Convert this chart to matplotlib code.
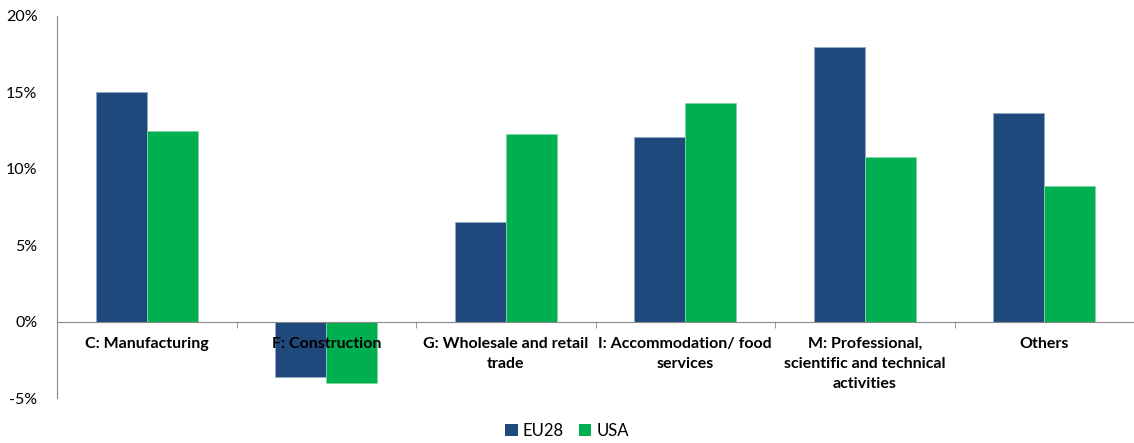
import matplotlib
matplotlib.use("Agg")
import matplotlib.pyplot as plt
import numpy as np
from matplotlib.ticker import FuncFormatter, FixedLocator
from matplotlib.patches import Patch

categories = ["C: Manufacturing", "F: Construction", "G: Wholesale and retail\ntrade",
              "I: Accommodation/ food\nservices", "M: Professional,\nscientific and technical\nactivities",
              "Others"]
eu28 = [15.0, -3.6, 6.5, 12.1, 17.95, 13.65]
usa = [12.45, -4.0, 12.3, 14.3, 10.8, 8.9]
series_names = ["EU28", "USA"]
colors = ["#1F497D", "#00B050"]

plt.rcParams['font.family'] = ['Lato', 'DejaVu Sans']

fig = plt.figure(figsize=(11.34, 4.43), dpi=100)
ax = fig.add_axes([57/1134, 1-398/443, 1-57/1134, (398-16)/443])

x = np.arange(len(categories))
w = 0.285
ax.bar(x - w/2, eu28, w, color=colors[0], edgecolor="#8EA9C8", linewidth=0.6, zorder=1)
ax.bar(x + w/2, usa, w, color=colors[1], edgecolor="#7FD6A3", linewidth=0.6, zorder=1)

ax.set_xlim(-0.5, len(categories) - 0.5)
ax.set_ylim(-5, 20)
ax.set_yticks([-5, 0, 5, 10, 15, 20])
ax.yaxis.set_major_formatter(FuncFormatter(lambda v, p: f"{v:.0f}%".replace("−", "-")))

for s in ["top", "right"]:
    ax.spines[s].set_visible(False)
ax.spines["bottom"].set_position(("data", 0))
ax.spines["bottom"].set_color("#888888")
ax.spines["left"].set_color("#888888")
ax.spines["bottom"].set_zorder(3)

ax.set_xticks(x)
ax.set_xticklabels(categories, fontsize=11.5, fontweight="bold", linespacing=1.55)
for lbl in ax.get_xticklabels():
    lbl.set_zorder(5)
ax.tick_params(axis="x", which="major", length=0, pad=11)
ax.xaxis.set_minor_locator(FixedLocator(np.arange(0.5, len(categories) - 0.5, 1)))
ax.tick_params(axis="x", which="minor", length=4, color="#888888", direction="out")
ax.tick_params(axis="y", length=0, labelsize=11.5, pad=14)

handles = [Patch(facecolor=c, edgecolor="none") for c in colors]
fig.legend(handles, series_names, loc="lower center", bbox_to_anchor=(0.5, -0.025), ncol=2,
           frameon=False, fontsize=12, handlelength=0.75, handleheight=0.75,
           handletextpad=0.3, columnspacing=0.9)

fig.savefig("out.png", dpi=100)
